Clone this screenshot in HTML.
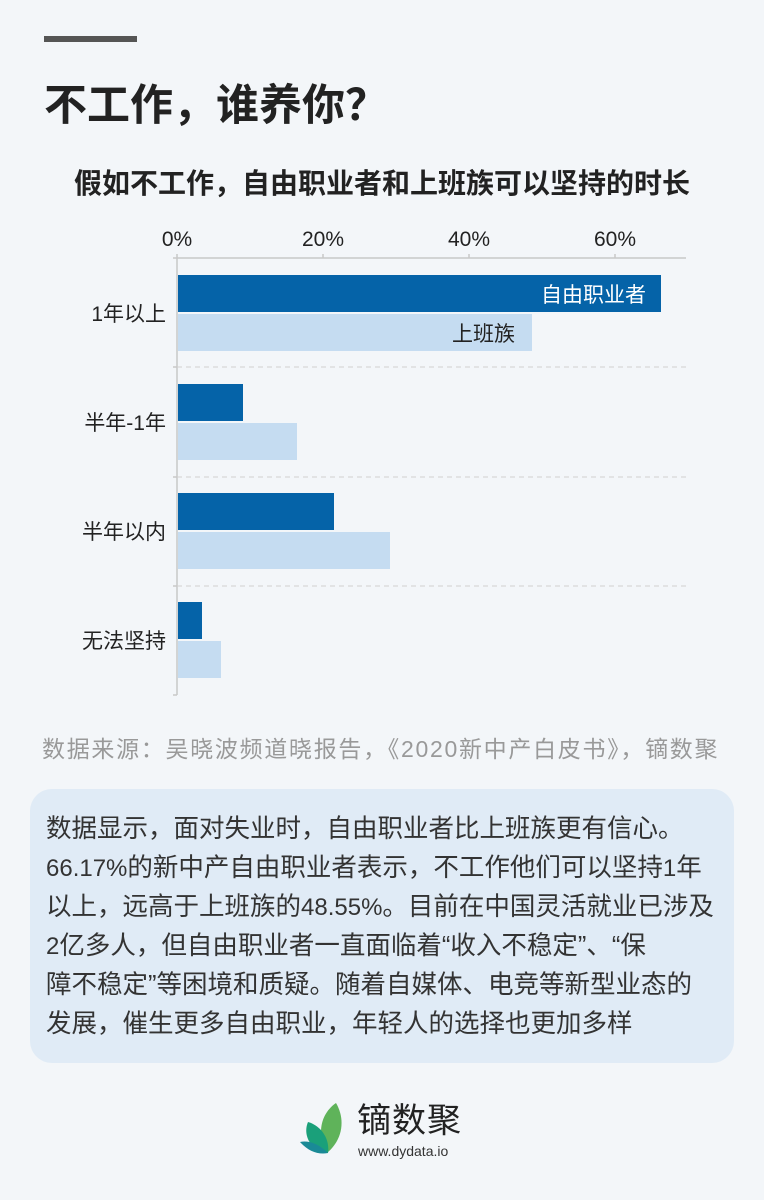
<!DOCTYPE html>
<html><head><meta charset="utf-8"><style>
body{margin:0;width:764px;height:1200px;background:#f3f6f9;position:relative;overflow:hidden;font-family:"Liberation Sans","Noto Sans CJK SC",sans-serif;color:#222}
.abs{position:absolute}
.box{left:30px;top:789px;width:704px;height:274px;background:#e0ebf6;border-radius:22px}
.para{left:46px;top:810px;font-size:25.5px;line-height:39px;color:#333;white-space:nowrap}
.l{font-size:24px}
</style></head><body>
<div class="abs" style="left:44px;top:74px;font-size:43px;font-weight:bold;color:#222;line-height:56px;white-space:nowrap">不工作，谁养你<span style="font-family:'Noto Sans CJK SC',sans-serif">？</span></div>
<div class="abs" style="left:44px;top:36px;width:93px;height:6px;background:#555"></div>
<div class="abs" style="left:0;width:764px;top:166px;text-align:center;font-size:28px;font-weight:bold;line-height:36px;white-space:nowrap">假如不工作，自由职业者和上班族可以坚持的时长</div>
<svg class="abs" style="left:0;top:0" width="764" height="720">
<g font-family="Liberation Sans, Noto Sans CJK SC, sans-serif" font-size="21" fill="#222" text-anchor="middle">
<text x="177" y="246">0%</text><text x="323" y="246">20%</text><text x="469" y="246">40%</text><text x="615" y="246">60%</text>
</g>
<g stroke="#c8c8c8" stroke-width="1.5">
<line x1="177" y1="258" x2="686" y2="258"/><line x1="177" y1="254" x2="177" y2="695"/>
<line x1="323" y1="254" x2="323" y2="258"/><line x1="469" y1="254" x2="469" y2="258"/><line x1="615" y1="254" x2="615" y2="258"/>
<line x1="173" y1="258" x2="177" y2="258"/><line x1="173" y1="367" x2="177" y2="367"/><line x1="173" y1="477" x2="177" y2="477"/><line x1="173" y1="586" x2="177" y2="586"/><line x1="173" y1="695" x2="177" y2="695"/>
</g>
<g stroke="#d0d0d0" stroke-width="1" stroke-dasharray="5,4">
<line x1="177" y1="367" x2="686" y2="367"/><line x1="177" y1="477" x2="686" y2="477"/><line x1="177" y1="586" x2="686" y2="586"/>
</g>
<g fill="#0563a8">
<rect x="178" y="275" width="483" height="37"/><rect x="178" y="384" width="65" height="37"/><rect x="178" y="493" width="156" height="37"/><rect x="178" y="602" width="24" height="37"/>
</g>
<g fill="#c5dcf1">
<rect x="178" y="314" width="354" height="37"/><rect x="178" y="423" width="119" height="37"/><rect x="178" y="532" width="212" height="37"/><rect x="178" y="641" width="43" height="37"/>
</g>
<g font-family="Liberation Sans, Noto Sans CJK SC, sans-serif" font-size="21" text-anchor="end">
<text x="646" y="302" fill="#fff">自由职业者</text><text x="515" y="341" fill="#222">上班族</text>
</g>
<g font-family="Liberation Sans, Noto Sans CJK SC, sans-serif" font-size="21" fill="#222" text-anchor="end">
<text x="166" y="321">1年以上</text><text x="166" y="430">半年-1年</text><text x="166" y="539">半年以内</text><text x="166" y="648">无法坚持</text>
</g>
</svg>
<div class="abs" style="left:42px;top:734px;font-size:23px;letter-spacing:1.7px;color:#999;line-height:30px;white-space:nowrap">数据来源：吴晓波频道晓报告，《2020新中产白皮书》，镝数聚</div>
<div class="abs box"></div>
<div class="abs para">数据显示，面对失业时，自由职业者比上班族更有信心。<br><span class="l">66.17%</span>的新中产自由职业者表示，不工作他们可以坚持<span class="l">1</span>年<br>以上，远高于上班族的<span class="l">48.55%</span>。目前在中国灵活就业已涉及<br><span class="l">2</span>亿多人，但自由职业者一直面临着“收入不稳定”、“保<br>障不稳定”等困境和质疑。随着自媒体、电竞等新型业态的<br>发展，催生更多自由职业，年轻人的选择也更加多样</div>
<svg class="abs" style="left:298px;top:1100px" width="52" height="60">
<path d="M38 3 C22 14 18 36 30 52 C44 40 48 20 38 3Z" fill="#5fb35a"/>
<path d="M10 22 C4 36 14 52 30 53 C32 40 24 26 10 22Z" fill="#1aa07a"/>
<path d="M2 42 C10 51 20 55 30 53 C22 45 12 40 2 42Z" fill="#1a8a96"/>
</svg>
<div class="abs" style="left:357px;top:1101px;font-size:34px;color:#222;line-height:40px;letter-spacing:1px">镝数聚</div>
<div class="abs" style="left:358px;top:1143px;font-size:14px;color:#333;line-height:16px">www.dydata.io</div>
</body></html>
